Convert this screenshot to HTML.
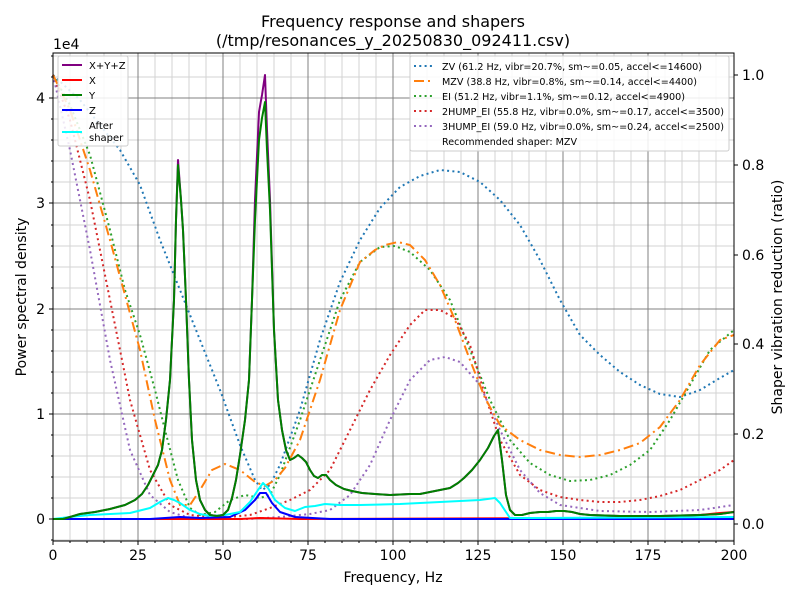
<!DOCTYPE html>
<html><head><meta charset="utf-8"><style>
html,body{margin:0;padding:0;background:#fff;}
svg text{font-family:"DejaVu Sans","Liberation Sans",sans-serif;}
</style></head><body>
<svg width="800" height="600" viewBox="0 0 800 600" xmlns="http://www.w3.org/2000/svg">
<rect width="800" height="600" fill="#fff"/>
<g stroke="#d3d3d3" stroke-width="1">
<path d="M70,53V541M87,53V541M104,53V541M121,53V541M155,53V541M172,53V541M189,53V541M206,53V541M240,53V541M257,53V541M274,53V541M291,53V541M325,53V541M342,53V541M359,53V541M376,53V541M410,53V541M427,53V541M444,53V541M461,53V541M495,53V541M512,53V541M529,53V541M546,53V541M580,53V541M597,53V541M614,53V541M631,53V541M665,53V541M682,53V541M699,53V541M716,53V541"/>
<path d="M53,540H734M53,498H734M53,477H734M53,456H734M53,435H734M53,393H734M53,372H734M53,351H734M53,330H734M53,288H734M53,267H734M53,246H734M53,225H734M53,182H734M53,161H734M53,140H734M53,119H734M53,77H734M53,56H734"/>
</g>
<g stroke="#808080" stroke-width="1">
<path d="M138,53V541M223,53V541M308,53V541M393,53V541M478,53V541M563,53V541M648,53V541"/>
<path d="M53,519H734M53,414H734M53,309H734M53,203H734M53,98H734"/>
</g>
<g fill="none" stroke-width="2" stroke-dasharray="2,3.3">
<polyline stroke="#1f77b4" points="53,75 80,100 100,125 120,150 140,185 160,240 180,290 200,340 220,390 240,445 255,480 262,490 270,485 280,465 300,410 320,340 340,282 360,240 380,208 400,187 420,176 440,170 460,172 480,182 500,200 520,225 540,260 560,300 580,335 600,355 620,372 640,385 660,394 680,397 700,390 720,378 734,370"/>
<polyline stroke="#2ca02c" points="53,75 70,105 90,155 110,230 125,290 140,335 155,390 165,430 178,480 190,508 200,515 215,512 230,500 245,495 260,498 270,495 280,475 300,420 320,360 340,300 360,262 380,247 395,246 410,252 430,270 450,300 470,350 490,400 510,440 530,463 550,475 570,481 590,480 610,475 630,465 650,450 670,420 690,385 710,350 734,330"/>
<polyline stroke="#d62728" points="53,75 70,120 90,200 110,300 130,400 150,470 170,505 190,515 210,517 230,517 250,515 270,508 290,500 310,490 330,470 350,430 370,390 390,355 410,325 425,310 440,310 455,318 470,345 485,395 500,440 520,475 540,490 560,497 580,500 600,502 620,502 640,500 660,496 680,490 700,480 720,470 734,460"/>
<polyline stroke="#9467bd" points="53,75 70,150 90,250 110,360 130,450 150,495 170,512 190,518 220,519 250,519 280,517 310,514 330,510 350,495 370,465 390,420 410,380 430,360 445,357 460,362 480,385 500,430 520,470 540,493 560,505 600,511 650,512 700,510 734,505"/>
</g>
<polyline fill="none" stroke="#ff7f0e" stroke-width="2" stroke-dasharray="10,4,2,4" points="53,75 70,110 90,170 110,240 125,295 140,350 155,420 170,480 180,505 190,505 200,490 212,470 225,464 240,470 255,482 265,486 275,480 285,468 300,440 320,380 340,310 360,262 375,250 385,245 398,242 410,245 425,260 440,285 455,320 470,360 485,398 500,425 520,440 540,450 560,455 580,457 600,455 620,450 640,443 660,427 680,400 700,365 720,340 734,335"/>
<g fill="none" stroke-width="2" stroke-linejoin="round">
<polyline stroke="#ff0000" points="53,519 240,519 260,518 300,519 600,518 680,516 700,515 720,513 734,512"/>
<polyline stroke="#0000ff" points="53,519 150,519 180,517 200,518 230,517 245,510 255,500 260,493 266,493 272,503 280,512 295,517 330,519 734,519"/>
<polyline stroke="#00ffff" points="53,519 70,517 90,515 130,513 150,508 160,502 168,498 174,500 180,503 190,510 200,514 210,516 225,515 240,512 250,502 258,490 263,483 268,488 275,500 285,508 295,511 305,507 315,506 325,504 340,505 360,505 400,504 440,502 480,500 495,498 500,503 510,518 530,518 734,517"/>
<polyline stroke="#800080" points="53,519 63,519 70,517 80,514 95,512 110,509 125,505 135,500 142,494 148,485 153,475 158,465 162,450 166,420 170,380 174,300 176,220 178,160 181,200 183,230 186,300 189,380 192,440 196,480 200,500 205,510 210,515 217,516 223,515 228,510 232,498 236,480 240,455 245,420 249,380 252,300 255,200 259,112 262,95 265,75 267,130 270,200 274,330 278,400 282,430 286,450 290,460 294,458 298,455 302,458 306,462 310,470 314,476 318,478 322,475 326,475 330,480 336,485 344,489 352,491 362,493 375,494 390,495 410,494 420,494 430,492 440,490 450,488 458,483 464,478 472,470 480,460 488,448 494,436 498,430 502,460 506,495 510,510 515,515 522,515 530,513 540,512 548,512 556,511 564,511 572,512 580,514 590,515 620,516 660,516 700,515 720,514 734,512"/>
<polyline stroke="#008000" points="53,519 63,519 70,517 80,514 95,512 110,509 125,505 135,500 142,494 148,485 153,475 158,465 162,450 166,420 170,380 174,300 176,220 178,165 181,200 183,230 186,300 189,380 192,440 196,480 200,500 205,510 210,515 217,516 223,515 228,510 232,498 236,480 240,455 245,420 249,380 252,300 255,220 259,140 262,118 265,102 267,150 270,210 274,330 278,400 282,430 286,450 290,460 294,458 298,455 302,458 306,462 310,470 314,476 318,478 322,475 326,475 330,480 336,485 344,489 352,491 362,493 375,494 390,495 410,494 420,494 430,492 440,490 450,488 458,483 464,478 472,470 480,460 488,448 494,436 498,430 502,460 506,495 510,510 515,515 522,515 530,513 540,512 548,512 556,511 564,511 572,512 580,514 590,515 620,516 660,516 700,515 720,514 734,512"/>
</g>
<rect x="53" y="53" width="681" height="488" fill="none" stroke="#000" stroke-width="1"/>
<g stroke="#000" stroke-width="1">
<path d="M53,541v4M138,541v4M223,541v4M308,541v4M393,541v4M478,541v4M563,541v4M648,541v4M734,541v4"/>
<path d="M70,541v2M87,541v2M104,541v2M121,541v2M155,541v2M172,541v2M189,541v2M206,541v2M240,541v2M257,541v2M274,541v2M291,541v2M325,541v2M342,541v2M359,541v2M376,541v2M410,541v2M427,541v2M444,541v2M461,541v2M495,541v2M512,541v2M529,541v2M546,541v2M580,541v2M597,541v2M614,541v2M631,541v2M665,541v2M682,541v2M699,541v2M716,541v2"/>
<path d="M53,519h-4M53,414h-4M53,309h-4M53,203h-4M53,98h-4"/>
<path d="M53,540h-2M53,498h-2M53,477h-2M53,456h-2M53,435h-2M53,393h-2M53,372h-2M53,351h-2M53,330h-2M53,288h-2M53,267h-2M53,246h-2M53,225h-2M53,182h-2M53,161h-2M53,140h-2M53,119h-2M53,77h-2M53,56h-2"/>
<path d="M734,524h4M734,434h4M734,344h4M734,255h4M734,165h4M734,75h4"/>
</g>
<g font-size="14" fill="#000">
<text x="53" y="560" text-anchor="middle">0</text>
<text x="138" y="560" text-anchor="middle">25</text>
<text x="223" y="560" text-anchor="middle">50</text>
<text x="308" y="560" text-anchor="middle">75</text>
<text x="393" y="560" text-anchor="middle">100</text>
<text x="478" y="560" text-anchor="middle">125</text>
<text x="563" y="560" text-anchor="middle">150</text>
<text x="648" y="560" text-anchor="middle">175</text>
<text x="734" y="560" text-anchor="middle">200</text>
<text x="45" y="524" text-anchor="end">0</text>
<text x="45" y="419" text-anchor="end">1</text>
<text x="45" y="314" text-anchor="end">2</text>
<text x="45" y="208" text-anchor="end">3</text>
<text x="45" y="103" text-anchor="end">4</text>
<text x="53" y="49">1e4</text>
<text x="742" y="529">0.0</text>
<text x="742" y="439">0.2</text>
<text x="742" y="349">0.4</text>
<text x="742" y="260">0.6</text>
<text x="742" y="170">0.8</text>
<text x="742" y="80">1.0</text>
<text x="393" y="582" text-anchor="middle">Frequency, Hz</text>
<text transform="translate(26,297) rotate(-90)" text-anchor="middle">Power spectral density</text>
<text transform="translate(782,297) rotate(-90)" text-anchor="middle">Shaper vibration reduction (ratio)</text>
<text x="393" y="27" text-anchor="middle" font-size="16">Frequency response and shapers</text>
<text x="393" y="46" text-anchor="middle" font-size="16">(/tmp/resonances_y_20250830_092411.csv)</text>
</g>
<g>
<rect x="58" y="56" width="70" height="90" fill="#fff" fill-opacity="0.85" stroke="#ccc" rx="2"/>
<g stroke-width="2">
<path d="M62,65h20" stroke="#800080"/><path d="M62,80h20" stroke="#ff0000"/><path d="M62,95h20" stroke="#008000"/><path d="M62,110h20" stroke="#0000ff"/><path d="M62,132h20" stroke="#00ffff"/>
</g>
<g font-size="10" fill="#000">
<text x="89" y="69">X+Y+Z</text><text x="89" y="84">X</text><text x="89" y="99">Y</text><text x="89" y="114">Z</text><text x="89" y="129">After</text><text x="89" y="141">shaper</text>
</g>
<rect x="410" y="56" width="319" height="95" fill="#fff" fill-opacity="0.85" stroke="#ccc" rx="2"/>
<g stroke-width="2" fill="none">
<path d="M414,66h20" stroke="#1f77b4" stroke-dasharray="2,3.3"/>
<path d="M414,81h20" stroke="#ff7f0e" stroke-dasharray="10,4,2,4"/>
<path d="M414,96h20" stroke="#2ca02c" stroke-dasharray="2,3.3"/>
<path d="M414,111h20" stroke="#d62728" stroke-dasharray="2,3.3"/>
<path d="M414,126h20" stroke="#9467bd" stroke-dasharray="2,3.3"/>
</g>
<g font-size="10" fill="#000">
<text x="442" y="70" textLength="260" lengthAdjust="spacingAndGlyphs">ZV (61.2 Hz, vibr=20.7%, sm~=0.05, accel&lt;=14600)</text>
<text x="442" y="85" textLength="255" lengthAdjust="spacingAndGlyphs">MZV (38.8 Hz, vibr=0.8%, sm~=0.14, accel&lt;=4400)</text>
<text x="442" y="100" textLength="243" lengthAdjust="spacingAndGlyphs">EI (51.2 Hz, vibr=1.1%, sm~=0.12, accel&lt;=4900)</text>
<text x="442" y="115" textLength="282" lengthAdjust="spacingAndGlyphs">2HUMP_EI (55.8 Hz, vibr=0.0%, sm~=0.17, accel&lt;=3500)</text>
<text x="442" y="130" textLength="282" lengthAdjust="spacingAndGlyphs">3HUMP_EI (59.0 Hz, vibr=0.0%, sm~=0.24, accel&lt;=2500)</text>
<text x="442" y="145" textLength="135" lengthAdjust="spacingAndGlyphs">Recommended shaper: MZV</text>
</g>
</g>
</svg>
</body></html>
